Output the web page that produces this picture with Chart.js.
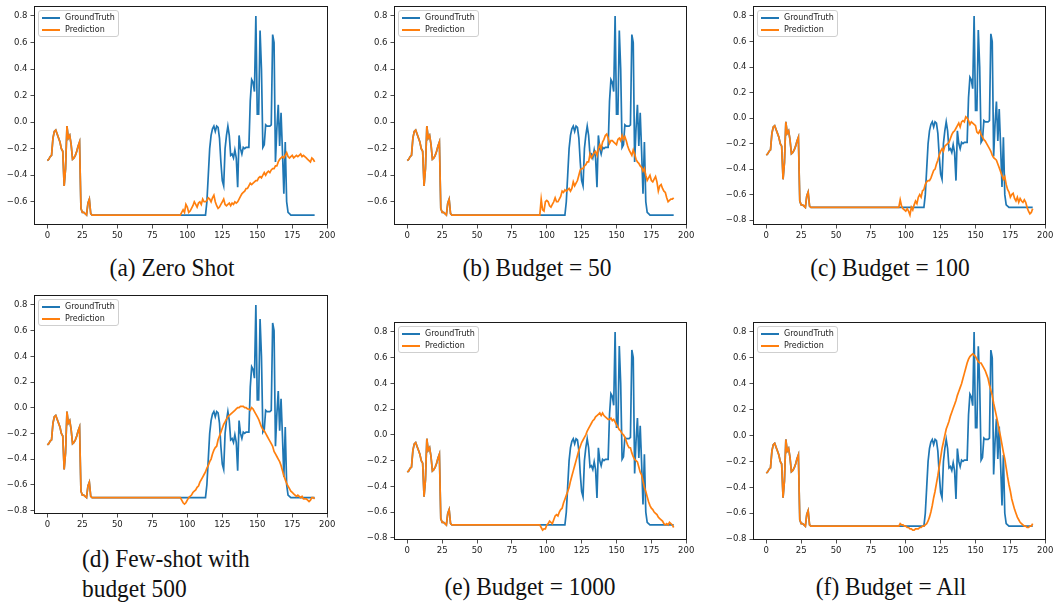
<!DOCTYPE html>
<html>
<head>
<meta charset="utf-8">
<script src="https://cdn.jsdelivr.net/npm/chart.js@4.4.1/dist/chart.umd.min.js"></script>
<style>
  html, body { margin: 0; padding: 0; background: #fff; }
  body { width: 1055px; height: 605px; position: relative; overflow: hidden; }
  .panel { position: absolute; }
  .legend {
    position: absolute; box-sizing: border-box; width: 81px; height: 27px;
    border: 1px solid #cfcfcf; border-radius: 3px; background: rgba(255,255,255,0.85);
    font-family: "DejaVu Sans", sans-serif; font-size: 8px; color: #222;
    padding: 1px 0 0 2px;
  }
  .legend .row { height: 12px; line-height: 12px; white-space: nowrap; display: flex; align-items: center; }
  .legend .sw { display: inline-block; width: 18px; height: 2px; margin: 0 5px 0 1px; }
  .caption {
    position: absolute; font-family: "Liberation Serif", "Times New Roman", serif;
    font-size: 26px; line-height: 30px; color: #111; white-space: nowrap;
  }
  .caption.center { transform: translateX(-50%) scaleX(0.9); }
  .caption.left { transform: scaleX(0.9); transform-origin: left top; }
</style>
</head>
<body>
<script>
// Time steps 0..191 of the test window
const steps = [
  0,1,2,3,4,5,6,7,8,9,10,11,12,13,14,15,16,17,18,19,20,21,22,23,24,25,26,27,28,29,30,31,
  32,33,34,35,36,37,38,39,40,41,42,43,44,45,46,47,48,49,50,51,52,53,54,55,56,57,58,59,60,61,62,63,
  64,65,66,67,68,69,70,71,72,73,74,75,76,77,78,79,80,81,82,83,84,85,86,87,88,89,90,91,92,93,94,95,
  96,97,98,99,100,101,102,103,104,105,106,107,108,109,110,111,112,113,114,115,116,117,118,119,120,121,122,123,124,125,126,127,
  128,129,130,131,132,133,134,135,136,137,138,139,140,141,142,143,144,145,146,147,148,149,150,151,152,153,154,155,156,157,158,159,
  160,161,162,163,164,165,166,167,168,169,170,171,172,173,174,175,176,177,178,179,180,181,182,183,184,185,186,187,188,189,190,191
];

// Observed signal (shared by every panel)
const groundTruth = [
  -0.29, -0.28, -0.26, -0.25, -0.12, -0.07, -0.06, -0.09, -0.12, -0.15, -0.2, -0.22, -0.48, -0.35, -0.03, -0.12,
  -0.1, -0.17, -0.28, -0.27, -0.25, -0.22, -0.18, -0.15, -0.65, -0.68, -0.68, -0.69, -0.7, -0.61, -0.58, -0.69,
  -0.7, -0.7, -0.7, -0.7, -0.7, -0.7, -0.7, -0.7, -0.7, -0.7, -0.7, -0.7, -0.7, -0.7, -0.7, -0.7,
  -0.7, -0.7, -0.7, -0.7, -0.7, -0.7, -0.7, -0.7, -0.7, -0.7, -0.7, -0.7, -0.7, -0.7, -0.7, -0.7,
  -0.7, -0.7, -0.7, -0.7, -0.7, -0.7, -0.7, -0.7, -0.7, -0.7, -0.7, -0.7, -0.7, -0.7, -0.7, -0.7,
  -0.7, -0.7, -0.7, -0.7, -0.7, -0.7, -0.7, -0.7, -0.7, -0.7, -0.7, -0.7, -0.7, -0.7, -0.7, -0.7,
  -0.7, -0.7, -0.7, -0.7, -0.7, -0.7, -0.7, -0.7, -0.7, -0.7, -0.7, -0.7, -0.7, -0.7, -0.7, -0.7,
  -0.7, -0.7, -0.6, -0.4, -0.2, -0.1, -0.05, -0.03, -0.07, -0.03, -0.04, -0.12, -0.3, -0.44, -0.48, -0.2,
  -0.1, -0.03, -0.1, -0.25, -0.24, -0.27, -0.21, -0.27, -0.49, -0.1, -0.2, -0.24, -0.19, -0.2, -0.19, -0.19,
  -0.19, 0.16, 0.32, 0.3, 0.23, 0.8, 0.06, 0.06, 0.69, 0.4, -0.19, -0.17, -0.02, -0.03, -0.03, -0.03,
  -0.02, 0.66, 0.6, -0.3, -0.05, 0.13, -0.18, 0.07, -0.22, -0.54, -0.15, -0.6, -0.68, -0.69, -0.7, -0.7,
  -0.7, -0.7, -0.7, -0.7, -0.7, -0.7, -0.7, -0.7, -0.7, -0.7, -0.7, -0.7, -0.7, -0.7, -0.7, -0.7
];

// Forecasts start after the observed context (steps 0..95)
const contextLength = 96;

// Forecast values for steps 96..191
const predZeroShot = [
  -0.68, -0.66, -0.68, -0.62, -0.64, -0.68, -0.67, -0.65,
  -0.63, -0.6, -0.62, -0.64, -0.61, -0.6, -0.62, -0.58,
  -0.6, -0.6, -0.59, -0.57, -0.58, -0.6, -0.57, -0.55,
  -0.6, -0.63, -0.65, -0.64, -0.62, -0.6, -0.58, -0.62,
  -0.63, -0.62, -0.61, -0.63, -0.61, -0.62, -0.6, -0.61,
  -0.6, -0.58, -0.56, -0.54, -0.53, -0.52, -0.5, -0.5,
  -0.48, -0.46, -0.47, -0.46, -0.45, -0.44, -0.44, -0.42,
  -0.41, -0.42, -0.4, -0.38, -0.4, -0.38, -0.37, -0.38,
  -0.36, -0.35, -0.35, -0.33, -0.33, -0.3, -0.28, -0.27,
  -0.26, -0.27, -0.25, -0.23, -0.26, -0.27, -0.26, -0.25,
  -0.27, -0.26, -0.25, -0.26, -0.25, -0.24, -0.26, -0.25,
  -0.26, -0.27, -0.28, -0.29, -0.3, -0.27, -0.28, -0.3
];
const predBudget50 = [
  -0.58, -0.66, -0.67, -0.6, -0.59, -0.6, -0.63, -0.64,
  -0.62, -0.6, -0.57, -0.6, -0.6, -0.58, -0.56, -0.52,
  -0.53, -0.51, -0.52, -0.51, -0.5, -0.52, -0.5, -0.45,
  -0.48, -0.46, -0.44, -0.4, -0.36, -0.35, -0.35, -0.33,
  -0.32, -0.3, -0.3, -0.24, -0.27, -0.25, -0.23, -0.22,
  -0.25, -0.2, -0.17, -0.2, -0.15, -0.13, -0.1, -0.09,
  -0.12, -0.16, -0.14, -0.14, -0.15, -0.16, -0.17, -0.13,
  -0.12, -0.14, -0.1, -0.13, -0.11, -0.14, -0.18, -0.21,
  -0.23, -0.25, -0.21, -0.24, -0.28, -0.3, -0.31, -0.33,
  -0.34, -0.37, -0.35, -0.4, -0.44, -0.42, -0.4, -0.44,
  -0.45, -0.43, -0.41, -0.45, -0.52, -0.48, -0.47, -0.5,
  -0.52, -0.53, -0.57, -0.6, -0.59, -0.58, -0.58, -0.57
];
const predBudget100 = [
  -0.64, -0.69, -0.71, -0.72, -0.73, -0.71, -0.73, -0.76,
  -0.7, -0.72, -0.68, -0.65, -0.67, -0.62, -0.6, -0.62,
  -0.57, -0.56, -0.52, -0.5, -0.49, -0.49, -0.47, -0.44,
  -0.41, -0.4, -0.36, -0.33, -0.29, -0.26, -0.24, -0.26,
  -0.22, -0.21, -0.2, -0.19, -0.16, -0.13, -0.11, -0.1,
  -0.08, -0.06, -0.04, -0.07, -0.03, -0.02, -0.03, 0.01,
  0.0, -0.02, -0.05, -0.03, -0.04, -0.05, -0.06, -0.11,
  -0.12, -0.1, -0.13, -0.15, -0.17, -0.18, -0.2, -0.22,
  -0.24, -0.26, -0.29, -0.31, -0.32, -0.33, -0.36, -0.39,
  -0.42, -0.45, -0.48, -0.46, -0.52, -0.56, -0.58, -0.62,
  -0.6, -0.59, -0.63, -0.65, -0.62, -0.66, -0.63, -0.65,
  -0.66, -0.64, -0.66, -0.7, -0.73, -0.75, -0.74, -0.71
];
const predBudget500 = [
  -0.72, -0.74, -0.75, -0.74, -0.72, -0.7, -0.69, -0.68,
  -0.66, -0.65, -0.64, -0.62, -0.61, -0.58, -0.56, -0.54,
  -0.52, -0.5, -0.47, -0.45, -0.42, -0.4, -0.36, -0.33,
  -0.31, -0.3, -0.25, -0.22, -0.19, -0.16, -0.13, -0.11,
  -0.09, -0.07, -0.06, -0.05, -0.04, -0.03, -0.02, -0.01,
  0.0, 0.0, 0.01, 0.01, 0.01, 0.0, 0.0, -0.01,
  -0.01, -0.02, 0.0, -0.01, -0.03, -0.05, -0.07, -0.09,
  -0.12, -0.15, -0.17, -0.18, -0.2, -0.22, -0.24, -0.26,
  -0.28, -0.3, -0.34, -0.36, -0.38, -0.4, -0.42, -0.45,
  -0.49, -0.53, -0.56, -0.59, -0.61, -0.63, -0.65, -0.66,
  -0.67, -0.68, -0.69, -0.68, -0.69, -0.7, -0.69, -0.71,
  -0.71, -0.71, -0.72, -0.73, -0.72, -0.7, -0.7, -0.71
];
const predBudget1000 = [
  -0.72, -0.74, -0.73, -0.73, -0.7, -0.69, -0.67, -0.68,
  -0.69, -0.66, -0.63, -0.62, -0.63, -0.6, -0.58, -0.57,
  -0.53, -0.5, -0.47, -0.44, -0.41, -0.36, -0.32, -0.28,
  -0.24, -0.2, -0.16, -0.12, -0.09, -0.06, -0.04, -0.02,
  0.0, 0.03, 0.05, 0.07, 0.09, 0.11, 0.12, 0.14,
  0.15, 0.16, 0.17, 0.15, 0.17, 0.15, 0.14, 0.13,
  0.12, 0.12, 0.13, 0.11, 0.12, 0.1, 0.08, 0.06,
  0.04, 0.03, 0.01, 0.0, -0.02, -0.05, -0.08, -0.1,
  -0.1, -0.14, -0.17, -0.19, -0.2, -0.21, -0.25, -0.29,
  -0.31, -0.36, -0.41, -0.44, -0.48, -0.52, -0.55, -0.57,
  -0.58, -0.6, -0.61, -0.62, -0.64, -0.65, -0.66, -0.67,
  -0.69, -0.7, -0.69, -0.7, -0.68, -0.69, -0.7, -0.72
];
const predBudgetAll = [
  -0.68, -0.69, -0.69, -0.7, -0.7, -0.71, -0.71, -0.72,
  -0.72, -0.73, -0.73, -0.72, -0.72, -0.72, -0.71, -0.71,
  -0.7, -0.7, -0.69, -0.68, -0.66, -0.63, -0.59, -0.54,
  -0.48, -0.43, -0.37, -0.31, -0.24, -0.17, -0.1, -0.05,
  0.0, 0.05, 0.08, 0.11, 0.15, 0.18, 0.21, 0.24,
  0.27, 0.31, 0.34, 0.37, 0.4, 0.44, 0.48, 0.52,
  0.56, 0.59, 0.61, 0.62, 0.63, 0.62, 0.61, 0.59,
  0.57, 0.56, 0.56, 0.54, 0.52, 0.5, 0.47, 0.44,
  0.39, 0.35, 0.31, 0.25, 0.2, 0.15, 0.1, 0.04,
  -0.01, -0.07, -0.13, -0.18, -0.25, -0.32, -0.38, -0.43,
  -0.49, -0.53, -0.57, -0.6, -0.63, -0.65, -0.67, -0.68,
  -0.69, -0.7, -0.7, -0.71, -0.71, -0.7, -0.7, -0.68
];

// Axis tick labels
const xTicks = [0, 25, 50, 75, 100, 125, 150, 175, 200];
const yTicksShort = [-0.6, -0.4, -0.2, 0.0, 0.2, 0.4, 0.6, 0.8];
const yTicksFull = [-0.8, -0.6, -0.4, -0.2, 0.0, 0.2, 0.4, 0.6, 0.8];

const seriesNames = ["GroundTruth", "Prediction"];
const captions = ["(a) Zero Shot", "(b) Budget = 50", "(c) Budget = 100",
                  "(d) Few-shot with|budget 500", "(e) Budget = 1000", "(f) Budget = All"];

const BLUE = "#1f77b4", ORANGE = "#ff7f0e";

// Panel plot-frame boxes [left, top, width, height] and caption anchors
const layoutBoxes = [
  { pred: predZeroShot,   yTicks: yTicksShort, frame: [34, 6, 294, 219],   cap: [172, 253] },
  { pred: predBudget50,   yTicks: yTicksShort, frame: [394, 6, 293, 219],  cap: [537, 253] },
  { pred: predBudget100,  yTicks: yTicksFull,  frame: [753, 6, 293, 219],  cap: [890, 253] },
  { pred: predBudget500,  yTicks: yTicksFull,  frame: [34, 295, 294, 219], cap: [82, 544] },
  { pred: predBudget1000, yTicks: yTicksFull,  frame: [394, 322, 293, 218], cap: [530, 572] },
  { pred: predBudgetAll,  yTicks: yTicksFull,  frame: [753, 322, 293, 218], cap: [891, 572] }
];

const AX_W = 40, AX_H = 22, PAD_T = 10, PAD_R = 16;

const framePlugin = {
  id: "frameBox",
  afterDatasetsDraw(chart) {
    const a = chart.chartArea, ctx = chart.ctx;
    ctx.save();
    ctx.strokeStyle = "#1a1a1a";
    ctx.lineWidth = 1;
    ctx.strokeRect(Math.round(a.left) + 0.5, Math.round(a.top) + 0.5,
                   Math.round(a.right - a.left) - 1, Math.round(a.bottom - a.top) - 1);
    ctx.restore();
  }
};

const fmtTick = v => {
  const s = (Math.abs(v) < 1e-9 ? 0 : v).toFixed(1);
  return s.replace("-", "\u2212");
};

function toPoints(values) {
  return values.map((v, i) => ({ x: steps[i], y: v }));
}

layoutBoxes.forEach((p, k) => {
  const [L, T, W, H] = p.frame;
  const pred = groundTruth.slice(0, contextLength).concat(p.pred);

  const all = groundTruth.concat(pred);
  const lo = Math.min(...all), hi = Math.max(...all);
  const ym = 0.05 * (hi - lo);
  const xLast = steps[steps.length - 1];
  const xm = 0.05 * xLast;

  const holder = document.createElement("div");
  holder.className = "panel";
  const cw = W + AX_W + PAD_R, ch = H + PAD_T + AX_H;
  holder.style.left = (L - AX_W) + "px";
  holder.style.top = (T - PAD_T) + "px";
  holder.style.width = cw + "px";
  holder.style.height = ch + "px";
  const canvas = document.createElement("canvas");
  canvas.width = cw; canvas.height = ch;
  canvas.style.width = cw + "px"; canvas.style.height = ch + "px";
  holder.appendChild(canvas);
  document.body.appendChild(holder);

  const tickFont = { family: "DejaVu Sans", size: 8.5 };

  new Chart(canvas, {
    type: "line",
    data: {
      datasets: [
        { label: seriesNames[0], data: toPoints(groundTruth), borderColor: BLUE,
          borderWidth: 1.7, pointRadius: 0, tension: 0, order: 1, fill: false },
        { label: seriesNames[1], data: toPoints(pred), borderColor: ORANGE,
          borderWidth: 1.7, pointRadius: 0, tension: 0, order: 0, fill: false }
      ]
    },
    options: {
      responsive: false,
      animation: false,
      events: [],
      devicePixelRatio: 1,
      layout: { padding: { top: PAD_T, right: PAD_R, left: 0, bottom: 0 } },
      plugins: { legend: { display: false }, tooltip: { enabled: false } },
      scales: {
        x: {
          type: "linear", min: -xm, max: xLast + xm,
          afterBuildTicks: s => { s.ticks = xTicks.map(v => ({ value: v })); },
          afterFit: s => { s.height = AX_H; },
          ticks: { font: tickFont, color: "#222", padding: 2, maxRotation: 0, autoSkip: false,
                   callback: v => String(v) },
          grid: { display: true, drawOnChartArea: false, drawTicks: true, tickLength: 3.5,
                  tickColor: "#222", tickWidth: 0.8 },
          border: { display: false }
        },
        y: {
          type: "linear", min: lo - ym, max: hi + ym,
          afterBuildTicks: s => { s.ticks = p.yTicks.map(v => ({ value: v })); },
          afterFit: s => { s.width = AX_W; },
          ticks: { font: tickFont, color: "#222", padding: 3, autoSkip: false, callback: fmtTick },
          grid: { display: true, drawOnChartArea: false, drawTicks: true, tickLength: 3.5,
                  tickColor: "#222", tickWidth: 0.8 },
          border: { display: false }
        }
      }
    },
    plugins: [framePlugin]
  });

  // Legend box in the upper-left corner of the plot frame
  const lg = document.createElement("div");
  lg.className = "legend";
  lg.style.left = (L + 4) + "px";
  lg.style.top = (T + 4) + "px";
  [[BLUE, seriesNames[0]], [ORANGE, seriesNames[1]]].forEach(([c, name]) => {
    const row = document.createElement("div");
    row.className = "row";
    const sw = document.createElement("span");
    sw.className = "sw"; sw.style.background = c;
    row.appendChild(sw);
    row.appendChild(document.createTextNode(name));
    lg.appendChild(row);
  });
  document.body.appendChild(lg);

  // Sub-figure caption
  const cap = document.createElement("div");
  const lines = captions[k].split("|");
  cap.style.left = p.cap[0] + "px";
  cap.style.top = p.cap[1] + "px";
  if (lines.length > 1) {
    cap.className = "caption left";
    cap.innerHTML = lines.join("<br>");
  } else {
    cap.className = "caption center";
    cap.textContent = lines[0];
  }
  document.body.appendChild(cap);
});
</script>
</body>
</html>
